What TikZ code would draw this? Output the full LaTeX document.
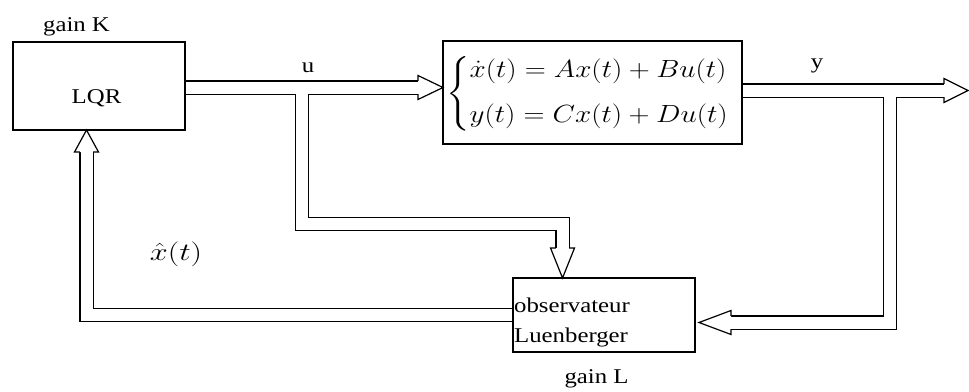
\documentclass[tikz,border=0pt]{standalone}
\usepackage{amsmath}
\usepackage{fontspec}
\setmainfont{Liberation Serif}[FakeStretch=1.18]
\usetikzlibrary{calc}
\tikzset{
  box/.style={draw=black, line width=1.1pt, inner sep=0pt, outer sep=0pt},
  txt/.style={font=\fontsize{21}{26}\selectfont, inner sep=0pt},
  pipeout/.style={draw=black, line width=14.4pt, line join=miter, line cap=butt},
  pipein/.style={draw=white, line width=12pt, line join=miter, line cap=butt},
  headline/.style={draw=black, fill=white, line width=1.2pt, line join=miter}
}
\newcommand\pipeHead[3]{%
  \begin{scope}[shift={(#1)}, rotate=#2]
    \filldraw[headline] (-#3,6.6) -- (-#3,12) -- (0,0) -- (-#3,-12) -- (-#3,-6.6);
  \end{scope}}
\newcommand\allPipes[1]{%
  \draw[#1] (u0) -- (ubase);
  \draw[#1] (uj) -- (uc1) -- (uc2) -- (u2base);
  \draw[#1] (y0) -- (ybase);
  \draw[#1] (yj) -- (yc1) -- (y2base);
  \draw[#1] (f0) -- (fc) -- (fbase);}
\begin{document}
\begin{tikzpicture}[x=1pt, y=-1pt]
\useasboundingbox (0,0) rectangle (969,391);
\fill[white] (0,0) rectangle (969,391);

% boxes (positions)
\node[box, minimum width=172pt, minimum height=88pt] (lqr) at (99,86) {};
\node[box, minimum width=299pt, minimum height=103pt] (state) at (592.5,92.5) {};
\node[box, minimum width=182pt, minimum height=74pt] (obs) at (604,315) {};

% connector points
\coordinate (u0) at ($(lqr.east)+(0,1.5)$);
\coordinate (utip) at (state.west |- u0);
\coordinate (ubase) at ($(utip)+(-25,0)$);
\coordinate (uj) at ($(u0)+(117,0)$);
\coordinate (uc1) at ($(uj)+(0,136.5)$);
\coordinate (u2tip) at ($(obs.north)+(-41.5,0)$);
\coordinate (uc2) at (u2tip |- uc1);
\coordinate (u2base) at ($(u2tip)+(0,-30)$);

\coordinate (y0) at ($(state.east)+(0,-2)$);
\coordinate (ytip) at ($(y0)+(226,0)$);
\coordinate (ybase) at ($(ytip)+(-24,0)$);
\coordinate (yj) at ($(y0)+(148,0)$);
\coordinate (y2tip) at ($(obs.east)+(4,7.5)$);
\coordinate (yc1) at (yj |- y2tip);
\coordinate (y2base) at ($(y2tip)+(32,0)$);

\coordinate (f0) at (obs.west);
\coordinate (ftip) at ($(lqr.south)+(-12.5,0)$);
\coordinate (fc) at (ftip |- f0);
\coordinate (fbase) at ($(ftip)+(0,22)$);

% double-line connectors
\allPipes{pipeout}
\allPipes{pipein}
\pipeHead{utip}{0}{25}
\pipeHead{u2tip}{-90}{30}
\pipeHead{ytip}{0}{24}
\pipeHead{y2tip}{180}{32}
\pipeHead{ftip}{90}{22}

% redraw box borders on top
\draw[box] (lqr.north west) rectangle (lqr.south east);
\draw[box] (state.north west) rectangle (state.south east);
\draw[box] (obs.north west) rectangle (obs.south east);

% texts
\node[txt, anchor=base] (gk) at (76.5,31) {gain K};
\node[txt, anchor=base] (lqrt) at (96.5,103) {LQR};
\node[txt, anchor=base] (ul) at (308,72) {u};
\node[txt, anchor=base] (yl) at (817,68) {y};
\node[txt, anchor=base west] (obs1) at (514,312) {observateur};
\node[txt, anchor=base west] (obs2) at (514,342) {Luenberger};
\node[txt, anchor=base] (gl) at (596.5,383) {gain L};
\node[inner sep=0pt, anchor=west] (eq) at (446,93.5) {\scalebox{1.17}[1]{\fontsize{23}{30}\selectfont\renewcommand{\arraystretch}{1}$\left\{\begin{array}{@{}l@{}}\dot{x}(t)=Ax(t)+Bu(t)\\[15pt] y(t)=Cx(t)+Du(t)\end{array}\right.$}};
\node[inner sep=0pt] (xh) at (176,254) {\scalebox{1.3}[1]{\fontsize{24}{29}\selectfont$\hat{x}(t)$}};
\end{tikzpicture}
\end{document}
